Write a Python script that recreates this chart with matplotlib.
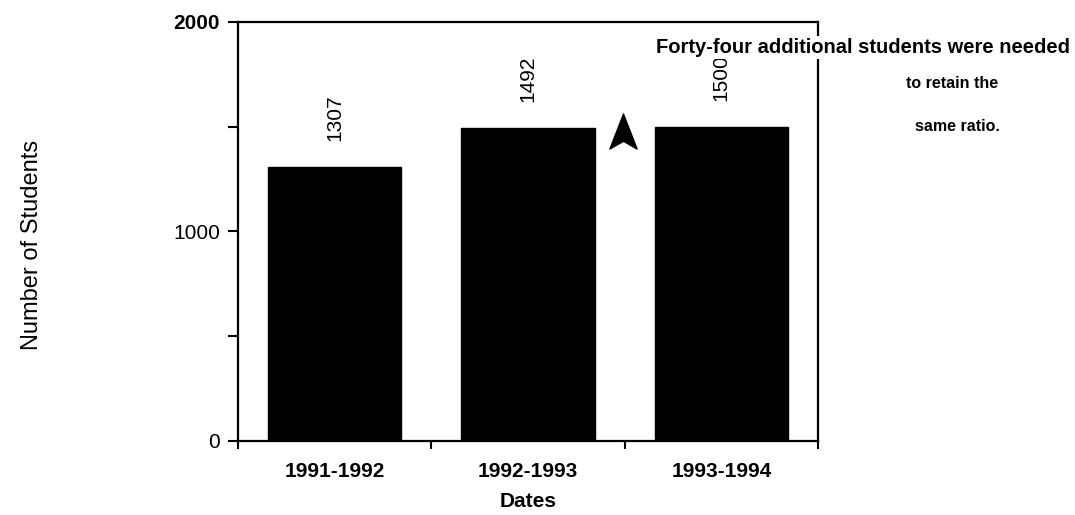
import matplotlib
matplotlib.use("Agg")
import matplotlib.pyplot as plt
from matplotlib.path import Path
from matplotlib.ticker import FixedLocator

categories = ["1991-1992", "1992-1993", "1993-1994"]
students = [1307, 1492, 1500]
value_labels = ["1307", "1492", "1500"]
y_major = [0, 1000, 2000]
y_minor = [500, 1500]
note_lines = ["Forty-four additional students were needed", "to retain the", "same ratio."]

plt.rcParams['font.family'] = ['Liberation Sans', 'DejaVu Sans']

fig = plt.figure(figsize=(10.75, 5.15), dpi=100)
ax = fig.add_axes([0.2214, 0.1437, 0.5395, 0.8136])

x = list(range(len(categories)))
ax.bar(x, students, width=0.69, color='black', edgecolor='black')

for xi, v, lab in zip(x, students, value_labels):
    ax.text(xi, v + 125, lab, rotation=90, ha='center', va='bottom', fontsize=15)

ax.set_xlim(-0.5, len(categories) - 0.5)
ax.set_ylim(0, 2000)

ax.xaxis.set_major_locator(FixedLocator([i - 0.5 for i in range(len(categories) + 1)]))
ax.xaxis.set_minor_locator(FixedLocator(x))
ax.set_xticklabels([])
ax.set_xticklabels(categories, minor=True)
ax.tick_params(axis='x', which='major', direction='out', length=6, width=1.5)
ax.tick_params(axis='x', which='minor', length=0, pad=15, labelsize=15)
for t in ax.xaxis.get_minorticklabels():
    t.set_fontweight('bold')

ax.yaxis.set_major_locator(FixedLocator(y_major))
ax.yaxis.set_minor_locator(FixedLocator(y_minor))
ax.set_yticklabels([str(v) for v in y_major])
ax.tick_params(axis='y', which='both', direction='out', length=7, width=1.5, labelsize=15, pad=6)
ax.get_yticklabels()[-1].set_fontweight('bold')

for s in ax.spines.values():
    s.set_linewidth(1.6)

ax.set_xlabel("Dates", fontsize=15, fontweight='bold', labelpad=8)
fig.text(0.03, 0.525, "Number of Students", rotation=90, ha='center', va='center', fontsize=17)

# arrowhead marker
arrow = Path([(0, 1), (0.7, -0.8), (0, -0.4), (-0.7, -0.8), (0, 1)],
             [Path.MOVETO, Path.LINETO, Path.LINETO, Path.LINETO, Path.CLOSEPOLY])
ax.plot([1.49], [1470], marker=arrow, markersize=28, color='black', linestyle='none')

fig.text(0.803, 0.907, note_lines[0], ha='center', va='center', fontsize=14.5, fontweight='bold',
         bbox=dict(facecolor='white', edgecolor='none', pad=1.5), zorder=10)
fig.text(0.886, 0.838, note_lines[1], ha='center', va='center', fontsize=11.5, fontweight='bold')
fig.text(0.891, 0.755, note_lines[2], ha='center', va='center', fontsize=11.5, fontweight='bold')

fig.savefig("out.png", dpi=100)
